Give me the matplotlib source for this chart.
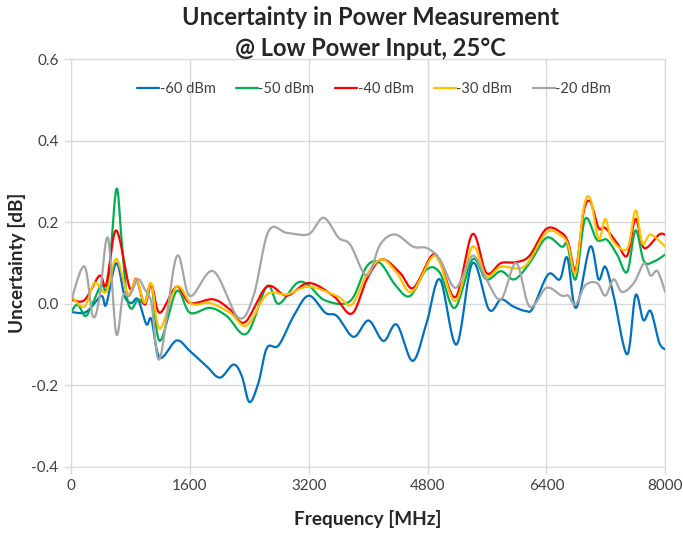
import numpy as np
import matplotlib
matplotlib.use("Agg")
import matplotlib.pyplot as plt

# values (frequency in MHz, uncertainty in dB)
f_60 = [0, 203, 406, 473, 608, 721, 811, 901, 1014, 1082, 1194, 1420, 1600, 1825, 2005, 2186, 2299, 2402,
        2524, 2637, 2794, 2997, 3200, 3424, 3580, 3803, 4005, 4206, 4385, 4599, 4787, 4966, 5189, 5404,
        5627, 5788, 5947, 6128, 6219, 6423, 6581, 6681, 6799, 6989, 7102, 7193, 7306, 7487, 7600, 7705,
        7804, 7918, 8000]
u_60 = [-0.02, -0.02, 0.019, -0.002, 0.100, 0.019, 0.002, 0.011, -0.05, -0.038, -0.132, -0.09, -0.116,
        -0.153, -0.181, -0.149, -0.177, -0.241, -0.193, -0.108, -0.102, -0.030, 0.020, -0.022, -0.03,
        -0.081, -0.041, -0.091, -0.051, -0.140, -0.047, 0.06, -0.1, 0.100, -0.014, 0.011, -0.006, -0.018,
        -0.010, 0.072, 0.060, 0.113, -0.010, 0.140, 0.06, 0.091, 0.019, -0.124, 0.021, -0.040, -0.018,
        -0.095, -0.112]

f_50 = [0, 90, 194, 293, 406, 496, 608, 676, 744, 811, 901, 992, 1082, 1194, 1420, 1600, 1870, 2096, 2366,
        2637, 2794, 3042, 3200, 3424, 3759, 3982, 4161, 4362, 4563, 4787, 4966, 5167, 5404, 5591, 5788,
        5969, 6174, 6400, 6604, 6681, 6794, 6921, 7080, 7215, 7351, 7487, 7600, 7714, 7850, 8000]
u_50 = [-0.02, -0.002, -0.03, 0.002, 0.047, 0.047, 0.28, 0.166, 0.027, -0.012, 0.011, 0.002, 0.047, -0.091,
        0.031, -0.022, -0.01, -0.03, -0.073, 0.043, 0.0, 0.051, 0.045, 0.008, 0.007, 0.092, 0.100, 0.047,
        0.019, 0.084, 0.076, -0.010, 0.109, 0.06, 0.080, 0.06, 0.100, 0.162, 0.140, 0.145, 0.06, 0.208,
        0.157, 0.157, 0.121, 0.078, 0.180, 0.104, 0.104, 0.121]

f_40 = [0, 180, 383, 473, 608, 789, 879, 992, 1082, 1194, 1420, 1600, 1915, 2141, 2344, 2637, 2907, 3200,
        3535, 3781, 3982, 4183, 4429, 4608, 4854, 4966, 5180, 5404, 5591, 5788, 5992, 6174, 6400, 6604,
        6695, 6794, 6898, 6989, 7102, 7193, 7351, 7487, 7600, 7714, 7918, 8000]
u_40 = [0.011, 0.009, 0.069, 0.047, 0.18, 0.039, 0.061, -0.002, 0.047, -0.022, 0.042, 0.002, 0.011, -0.014,
        -0.045, 0.042, 0.02, 0.051, 0.019, -0.024, 0.06, 0.109, 0.076, 0.039, 0.118, 0.104, 0.017, 0.171,
        0.076, 0.1, 0.102, 0.118, 0.184, 0.174, 0.149, 0.084, 0.223, 0.251, 0.186, 0.186, 0.149, 0.118,
        0.208, 0.137, 0.170, 0.169]

f_30 = [0, 180, 316, 473, 608, 766, 879, 992, 1082, 1194, 1420, 1622, 1870, 2141, 2366, 2637, 2907, 3200,
        3580, 3781, 3982, 4183, 4385, 4586, 4854, 4966, 5180, 5404, 5591, 5788, 6106, 6400, 6604, 6695,
        6794, 6898, 6989, 7102, 7193, 7283, 7487, 7600, 7691, 7804, 8000]
u_30 = [0.02, -0.007, 0.051, 0.029, 0.110, 0.025, 0.06, 0.002, 0.05, -0.061, 0.042, 0.0, 0.002, -0.022,
        -0.053, 0.023, 0.023, 0.042, 0.019, -0.002, 0.072, 0.109, 0.076, 0.029, 0.113, 0.1, 0.007, 0.140,
        0.068, 0.091, 0.092, 0.175, 0.166, 0.143, 0.076, 0.231, 0.259, 0.159, 0.208, 0.157, 0.135, 0.229,
        0.148, 0.170, 0.140]

f_20 = [0, 180, 293, 383, 496, 608, 698, 789, 901, 992, 1082, 1194, 1420, 1600, 1915, 2253, 2456, 2659,
        2907, 3200, 3401, 3602, 3759, 3982, 4161, 4362, 4608, 4787, 4966, 5180, 5404, 5591, 5788, 5992,
        6174, 6400, 6604, 6695, 6794, 6921, 7080, 7193, 7306, 7419, 7578, 7714, 7804, 7895, 8000]
u_20 = [0.007, 0.092, -0.03, 0.015, 0.162, -0.073, 0.019, 0.02, 0.06, 0.035, 0.002, -0.135, 0.115, 0.019,
        0.08, -0.034, 0.019, 0.178, 0.174, 0.171, 0.211, 0.162, 0.145, 0.069, 0.145, 0.170, 0.140, 0.137,
        0.109, 0.039, 0.118, 0.060, 0.011, 0.100, -0.007, 0.039, 0.020, 0.020, -0.002, 0.045, 0.051, 0.020,
        0.060, 0.029, 0.051, 0.099, 0.069, 0.080, 0.029]

labels = ["-60 dBm", "-50 dBm", "-40 dBm", "-30 dBm", "-20 dBm"]
colors = ["#0070C0", "#00B050", "#FF0000", "#FFC000", "#A5A5A5"]


def smooth(x, y, n=20):
    # Excel-style smoothed line (Catmull-Rom through the points)
    p = np.column_stack([x, y]).astype(float)
    p = np.vstack([p[0], p, p[-1]])
    out = []
    t = np.linspace(0, 1, n, endpoint=False)[:, None]
    for i in range(1, len(p) - 2):
        p0, p1, p2, p3 = p[i - 1], p[i], p[i + 1], p[i + 2]
        c1 = p1 + (p2 - p0) / 6
        c2 = p2 - (p3 - p1) / 6
        seg = ((1 - t) ** 3) * p1 + 3 * ((1 - t) ** 2) * t * c1 + 3 * (1 - t) * t ** 2 * c2 + t ** 3 * p2
        out.append(seg)
    out.append(p[-2][None, :])
    out = np.vstack(out)
    return out[:, 0], out[:, 1]


plt.rcParams['font.family'] = ['Lato', 'DejaVu Sans']

fig = plt.figure(figsize=(6.83, 5.33), dpi=100)
ax = fig.add_axes([0.104, 0.124, 0.870, 0.765])

series = [(f_60, u_60), (f_50, u_50), (f_40, u_40), (f_30, u_30), (f_20, u_20)]
for (f, u), lab, col in zip(series, labels, colors):
    xs, ys = smooth(f, u)
    ax.plot(xs, ys, color=col, lw=1.6, label=lab, solid_capstyle='round')

ax.set_xlim(0, 8000)
ax.set_ylim(-0.4, 0.6)
ax.set_xticks(np.arange(0, 8001, 1600))
ax.set_yticks(np.arange(-0.4, 0.61, 0.2))
ax.set_yticklabels([f"{v:.1f}" for v in np.arange(-0.4, 0.61, 0.2)])
ax.grid(True, color="#D9D9D9", lw=1)
ax.set_axisbelow(True)
for s in ax.spines.values():
    s.set_color("#D9D9D9")
ax.tick_params(length=5, width=1, color="#D9D9D9", labelsize=11, labelcolor="#404040", pad=4)

ax.set_xlabel("Frequency [MHz]", fontsize=13.7, fontweight='bold', color="#262626")
ax.set_ylabel("Uncertainty [dB]", fontsize=13.7, fontweight='bold', color="#262626")
ax.xaxis.set_label_coords(0.5, -0.127)
ax.yaxis.set_label_coords(-0.091, 0.5)
ax.xaxis.label.set_va('center')
ax.yaxis.label.set_va('center')
fig.text(0.542, 0.988, "Uncertainty in Power Measurement\n@ Low Power Input, 25°C", ha='center', va='top',
         fontsize=17, fontweight='bold', color="#262626", linespacing=1.42)

ax.legend(loc='upper center', bbox_to_anchor=(0.51, 0.977), ncol=5, frameon=False, fontsize=10.5,
          handlelength=1.5, handletextpad=0.05, columnspacing=1.4, labelcolor="#404040")

fig.savefig("out.png", dpi=100)
